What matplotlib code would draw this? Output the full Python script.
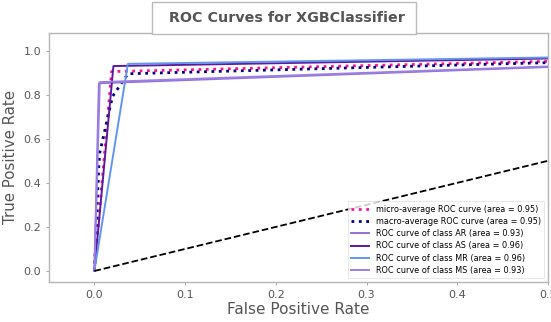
import numpy as np
import matplotlib
matplotlib.use("Agg")
import matplotlib.pyplot as plt
from matplotlib.patches import Rectangle

# ROC points (fpr, tpr)
micro_fpr = [0.0, 0.019, 1.0]
micro_tpr = [0.0, 0.905, 1.0]
macro_fpr = [0.0, 0.005, 0.006, 0.020, 0.037, 1.0]
macro_tpr = [0.0, 0.484, 0.538, 0.792, 0.895, 1.0]

class_names = ["AR", "AS", "MR", "MS"]
class_fpr = [[0.0, 0.005, 1.0], [0.0, 0.021, 1.0], [0.0, 0.037, 1.0], [0.0, 0.006, 1.0]]
class_tpr = [[0.0, 0.852, 1.0], [0.0, 0.930, 1.0], [0.0, 0.940, 1.0], [0.0, 0.857, 1.0]]
class_auc = [0.93, 0.96, 0.96, 0.93]
micro_auc = 0.95
macro_auc = 0.95
class_colors = ["#9370DB", "#5B1A9E", "#6495ED", "#9B7FE3"]

gray = "#555555"
fig = plt.figure(figsize=(5.51, 3.22), dpi=100)
ax = fig.add_axes([49/551, 1-282/322, (548-49)/551, (282-33)/322])

ax.plot(micro_fpr, micro_tpr, color="deeppink", linestyle=":", linewidth=2.0,
        label=f"micro-average ROC curve (area = {micro_auc:0.2f})")
ax.plot(macro_fpr, macro_tpr, color="navy", linestyle=":", linewidth=2.0,
        label=f"macro-average ROC curve (area = {macro_auc:0.2f})")
for name, f, t, a, c in zip(class_names, class_fpr, class_tpr, class_auc, class_colors):
    ax.plot(f, t, color=c, linewidth=1.4, label=f"ROC curve of class {name} (area = {a:0.2f})")
ax.plot([0, 1], [0, 1], "k--", linewidth=1.3)

ax.set_xlim(-0.05, 0.5)
ax.set_ylim(-0.05, 1.08)
ax.set_xticks([0.0, 0.1, 0.2, 0.3, 0.4, 0.5])
ax.set_yticks([0.0, 0.2, 0.4, 0.6, 0.8, 1.0])
ax.tick_params(colors=gray, labelsize=8, length=2, width=0.6, color="#999999")
for s in ax.spines.values():
    s.set_color("#b5b5b5")
    s.set_linewidth(1.0)
ax.set_xlabel("False Positive Rate", fontsize=11, color=gray, labelpad=2)
ax.set_ylabel("True Positive Rate", fontsize=10.8, color=gray, labelpad=4)

leg = ax.legend(loc="lower right", fontsize=5.9, frameon=True, borderaxespad=0.45,
                handlelength=2.2, labelspacing=0.4, fancybox=False)
leg.get_frame().set_edgecolor("#dddddd")
leg.get_frame().set_linewidth(0.6)

fig.patches.append(Rectangle((152/551, 1-34/322), (416-152)/551, 32/322,
                             transform=fig.transFigure, facecolor="white",
                             edgecolor="#bbbbbb", linewidth=1.0, zorder=5))
fig.text(287/551, 1-18/322, "ROC Curves for XGBClassifier", ha="center", va="center",
         fontsize=10.3, fontweight="bold", color=gray, family="DejaVu Sans", zorder=6)

fig.savefig("out.png", dpi=100)
